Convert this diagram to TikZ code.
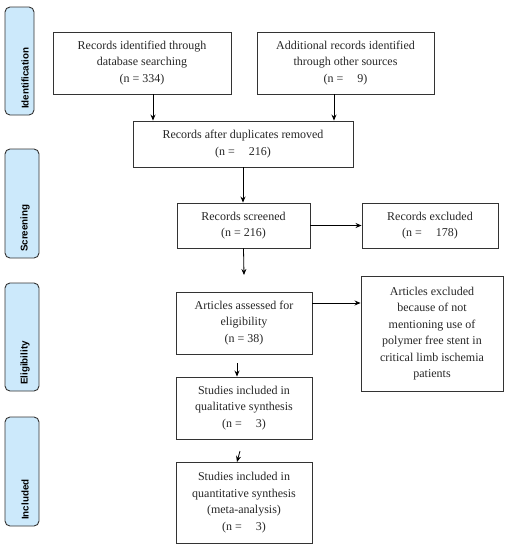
\documentclass[tikz,border=0pt]{standalone}
\usepackage{fontspec}
\setmainfont{Liberation Serif}
\setsansfont{Liberation Sans}
\usetikzlibrary{arrows.meta}
\definecolor{sidefill}{HTML}{CCE9FB}
\definecolor{boxline}{HTML}{333333}
\begin{document}
\begin{tikzpicture}[x=1pt,y=-1pt,
  box/.style={draw=boxline, line width=0.9pt, align=center, inner sep=0pt,
    font=\fontsize{12}{16.5}\selectfont, text=black!85},
  side/.style={draw=boxline, line width=0.9pt, fill=sidefill, rounded corners=5pt},
  sidetext/.style={rotate=90, anchor=west, inner sep=0pt, font=\sffamily\bfseries\fontsize{9.8}{11}\selectfont},
  arr/.style={draw=black, line width=0.8pt, -{Stealth[length=6pt,width=5pt]}}
]
\useasboundingbox (0,0) rectangle (508,550);

% side labels
\draw[side] (5,7) rectangle (34,115);
\node[sidetext] (sid) at (25,109) {Identification};
\draw[side] (5,149) rectangle (39,258);
\node[sidetext] (sscr) at (25,252) {Screening};
\draw[side] (5,283) rectangle (39,391);
\node[sidetext] (selig) at (25,385) {Eligibility};
\draw[side] (5,417) rectangle (39,526);
\node[sidetext] (sinc) at (25,520) {Included};

% boxes
\node[box, minimum width=178pt, minimum height=62pt] (A) at (142,63)
  {Records identified through\\database searching\\(n = 334)};
\node[box, minimum width=177pt, minimum height=62pt] (B) at (345.5,63)
  {Additional records identified\\through other sources\\(n = \hspace{0.9em}9)};
\node[box, minimum width=220pt, minimum height=46pt] (C) at (243,144)
  {Records after duplicates removed\\(n = \hspace{0.9em}216)};
\node[box, minimum width=133pt, minimum height=45pt] (D) at (243.5,225.5)
  {Records screened\\(n = 216)};
\node[box, minimum width=136pt, minimum height=45pt] (E) at (430,225.5)
  {Records excluded\\(n = \hspace{0.9em}178)};
\node[box, minimum width=136pt, minimum height=62pt] (F) at (244,323)
  {Articles assessed for\\eligibility\\(n = 38)};
\node[box, minimum width=142pt, minimum height=115pt] (G) at (432,333.5)
  {Articles excluded\\because of not\\mentioning use of\\polymer free stent in\\critical limb ischemia\\patients};
\node[box, minimum width=136pt, minimum height=62pt] (H) at (244,408)
  {Studies included in\\qualitative synthesis\\(n = \hspace{0.9em}3)};
\node[box, minimum width=136pt, minimum height=81pt] (I) at (244,502.5)
  {Studies included in\\quantitative synthesis\\(meta-analysis)\\(n = \hspace{0.9em}3)};

% helper coordinates
\coordinate (xa) at (153,0);
\coordinate (xb) at (334,0);
\coordinate (yfg) at (0,303);
\coordinate (d1) at (244,275);
\coordinate (f1) at (237,363);
\coordinate (h1) at (240,451);

% connectors
\draw[arr] (xa |- A.south) -- (xa |- C.north);
\draw[arr] (xb |- B.south) -- (xb |- C.north);
\draw[arr] (C.south) -- (C.south |- D.north);
\draw[arr] (D.east) -- (E.west);
\draw[arr] (D.south) -- (d1);
\draw[arr] (F.east |- yfg) -- (G.west |- yfg);
\draw[arr] (f1) -- (f1 |- H.north);
\draw[arr] (h1) -- (237,462);
\end{tikzpicture}
\end{document}
